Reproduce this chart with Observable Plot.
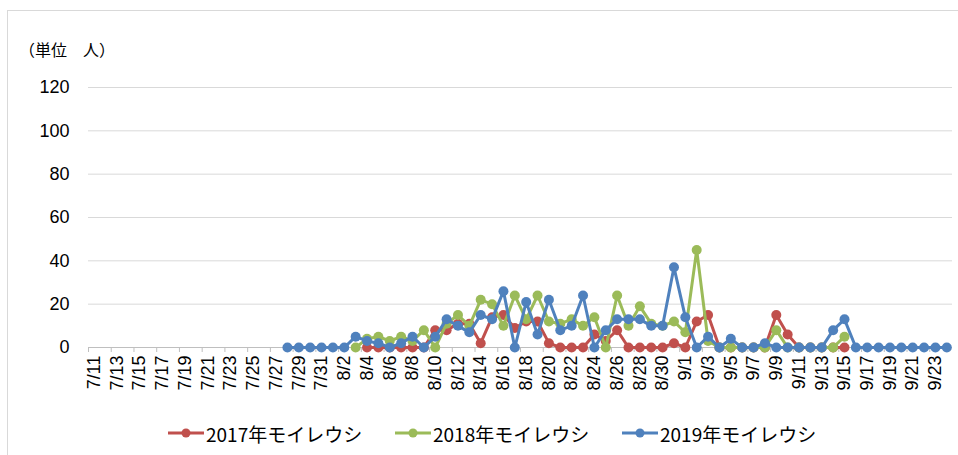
<!DOCTYPE html>
<html><head><meta charset="utf-8">
<script src="https://cdn.jsdelivr.net/npm/d3@7"></script>
<script src="https://cdn.jsdelivr.net/npm/@observablehq/plot@0.6"></script>
<style>
body{margin:0;background:#fff;width:958px;height:455px;position:relative;overflow:hidden;font-family:"Liberation Sans",Arial,sans-serif}
#frame{position:absolute;left:7px;top:10px;width:980px;height:480px;border-top:1px solid #d9d9d9;border-left:1px solid #d9d9d9}
#unit{position:absolute;left:19px;top:39px;font-size:16px;line-height:20px;font-family:"Noto Sans CJK JP",sans-serif;color:#000}
#chart{position:absolute;left:0;top:0}
.leg{position:absolute;top:421px;height:24px;display:flex;align-items:center;font-family:"Noto Sans CJK JP",sans-serif;font-size:19px;color:#000;white-space:nowrap}
.leg svg{margin-right:2px}
</style></head>
<body>
<div id="frame"></div>
<div id="chart"></div>
<div id="unit">（単位　人）</div>
<div id="legend"></div>
<script>
const dates = ["7/11","7/12","7/13","7/14","7/15","7/16","7/17","7/18","7/19","7/20","7/21","7/22","7/23","7/24","7/25","7/26","7/27","7/28","7/29","7/30","7/31",
"8/1","8/2","8/3","8/4","8/5","8/6","8/7","8/8","8/9","8/10","8/11","8/12","8/13","8/14","8/15","8/16","8/17","8/18","8/19","8/20","8/21","8/22","8/23","8/24","8/25","8/26","8/27","8/28","8/29","8/30","8/31",
"9/1","9/2","9/3","9/4","9/5","9/6","9/7","9/8","9/9","9/10","9/11","9/12","9/13","9/14","9/15","9/16","9/17","9/18","9/19","9/20","9/21","9/22","9/23","9/24"];
const tickLabels = ["7/11","7/13","7/15","7/17","7/19","7/21","7/23","7/25","7/27","7/29","7/31","8/2","8/4","8/6","8/8","8/10","8/12","8/14","8/16","8/18","8/20","8/22","8/24","8/26","8/28","8/30","9/1","9/3","9/5","9/7","9/9","9/11","9/13","9/15","9/17","9/19","9/21","9/23"];
const yTicks = [0,20,40,60,80,100,120];
const seriesNames = ["2017年モイレウシ","2018年モイレウシ","2019年モイレウシ"];
const seriesColors = ["#C0504D","#9BBB59","#4F81BD"];
// values from 7/11 onward; null = no data
const v2017 = [null,null,null,null,null,null,null,null,null,null,null,null,null,null,null,null,null,null,null,null,null,
null,null,null,0,0,0,0,0,0,8,8,11,11,2,14,15,9,12,12,2,0,0,0,6,3,8,0,0,0,0,2,
0,12,15,0,0,0,0,0,15,6,0,0,0,0,0,null,null,null,null,null,null,null,null,null];
const v2018 = [null,null,null,null,null,null,null,null,null,null,null,null,null,null,null,null,null,null,null,null,null,
null,null,0,4,5,3,5,3,8,0,11,15,10,22,20,10,24,13,24,12,11,13,10,14,0,24,10,19,11,10,12,
7,45,3,0,0,0,0,0,8,0,0,0,0,0,5,null,null,null,null,null,null,null,null,null];
const v2019 = [null,null,null,null,null,null,null,null,null,null,null,null,null,null,null,null,null,0,0,0,0,
0,0,5,3,2,0,2,5,0,5,13,10,7,15,13,26,0,21,6,22,8,10,24,0,8,13,13,13,10,10,37,
14,0,5,0,4,0,0,2,0,0,0,0,0,8,13,0,0,0,0,0,0,0,0,0];
const allValues = [v2017, v2018, v2019];

const left = 88, right = 952;
const step = (right - left) / dates.length;

const marks = [
  Plot.gridY(yTicks.filter(v => v > 0), {stroke: "#d9d9d9", strokeOpacity: 1, strokeWidth: 1}),
  Plot.ruleY([0], {stroke: "#bfbfbf", strokeWidth: 1}),
  Plot.axisY(yTicks, {tickSize: 0, tickPadding: 19, fontSize: 18}),
  Plot.axisX(tickLabels, {tickSize: 5, text: null, dx: -step / 2, stroke: "#bfbfbf"}),
  Plot.axisX(tickLabels, {tickSize: 0, tickPadding: 8, tickRotate: -90, fontSize: 18})
];
allValues.forEach((vals, i) => {
  const recs = dates.map((d, j) => ({date: d, value: vals[j]})).filter(r => r.value != null);
  marks.push(Plot.line(recs, {x: "date", y: "value", stroke: seriesColors[i], strokeWidth: 3}));
  marks.push(Plot.dot(recs, {x: "date", y: "value", fill: seriesColors[i], r: 5, stroke: "none"}));
});

const chart = Plot.plot({
  width: 958, height: 410,
  marginTop: 87, marginBottom: 63, marginLeft: left, marginRight: 958 - right,
  x: {type: "point", domain: dates, padding: 0.5, round: false, label: null},
  y: {domain: [0, 120], label: null},
  style: {fontFamily: "'Liberation Sans', Arial, sans-serif", color: "#000", background: "transparent"},
  marks
});
document.getElementById("chart").appendChild(chart);

const legLefts = [168, 395, 622];
const legend = document.getElementById("legend");
seriesNames.forEach((name, i) => {
  const div = document.createElement("div");
  div.className = "leg";
  div.style.left = legLefts[i] + "px";
  div.innerHTML = `<svg width="36" height="12"><line x1="0" y1="6" x2="36" y2="6" stroke="${seriesColors[i]}" stroke-width="3"/><circle cx="18" cy="6" r="4.5" fill="${seriesColors[i]}"/></svg><span>${name}</span>`;
  legend.appendChild(div);
});
</script>
</body></html>
